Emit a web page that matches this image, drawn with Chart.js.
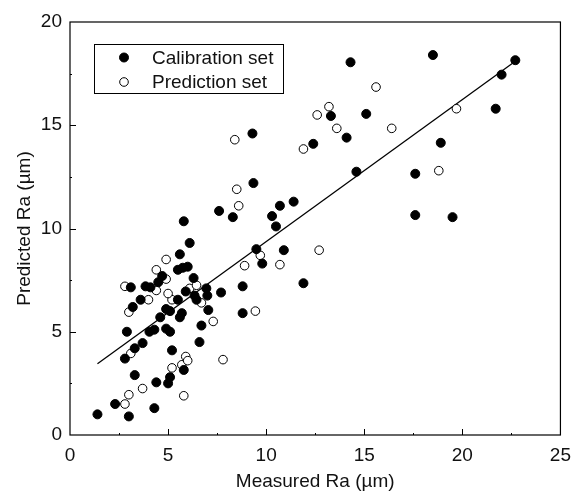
<!DOCTYPE html>
<html>
<head>
<meta charset="utf-8">
<script src="https://cdn.jsdelivr.net/npm/chart.js@4.4.0/dist/chart.umd.min.js"></script>
<style>
  html, body { margin: 0; padding: 0; background: #fff; }
  #wrap { width: 580px; height: 495px; }
</style>
</head>
<body>
<div id="wrap"><canvas id="raChart"></canvas></div>
<script>
// Calibration set (filled circles)
const calX = [1.4, 2.3, 3.0, 4.3, 3.3, 4.4, 5.0, 5.1, 5.8, 2.8, 3.3, 3.7, 5.2, 6.6, 2.9, 4.05, 4.3, 4.9, 5.1,
  6.7, 4.6, 5.6, 4.9, 5.1, 5.7, 7.05, 8.8, 3.2, 3.6, 5.5, 6.45, 6.35, 7.0, 5.9, 7.7, 6.95, 3.1, 3.85, 4.1,
  4.5, 6.3, 4.7, 5.5, 5.75, 6.0, 5.6, 6.1, 5.8, 8.8, 9.5, 9.8, 10.9, 11.9, 10.3, 10.5, 10.7, 11.4, 7.6,
  8.3, 9.35, 9.3, 12.4, 13.3, 14.1, 14.3, 15.1, 14.6, 17.6, 17.6, 18.9, 18.5, 19.5, 21.7, 22.0, 22.7];
const calY = [1.0, 1.5, 0.9, 1.3, 2.9, 2.55, 2.5, 2.8, 3.15, 3.7, 4.2, 4.45, 4.1, 4.5, 5.0, 5.0, 5.1, 5.15, 5.0,
  5.3, 5.7, 5.7, 6.1, 6.0, 5.9, 6.05, 5.9, 6.2, 6.55, 6.55, 6.55, 6.75, 6.75, 6.95, 6.9, 7.1, 7.15, 7.2, 7.15,
  7.4, 7.6, 7.7, 8.0, 8.1, 8.15, 8.75, 9.3, 10.35, 7.2, 9.0, 8.3, 8.95, 7.35, 10.6, 10.1, 11.1, 11.3, 10.85,
  10.55, 12.2, 14.6, 14.1, 15.45, 14.4, 18.05, 15.55, 12.75, 12.65, 10.65, 14.15, 18.4, 10.55, 15.8, 17.45, 18.15];

// Prediction set (open circles)
const predX = [2.8, 3.0, 3.7, 5.8, 5.2, 5.7, 5.9, 6.0, 3.1, 7.8, 3.0, 4.0, 5.2, 6.7, 7.3, 9.45, 5.0, 2.8, 4.4,
  6.1, 6.45, 4.9, 4.4, 4.9, 8.9, 9.7, 10.7, 12.7, 8.6, 8.5, 8.4, 11.9, 12.6, 13.2, 13.6, 15.6, 16.4, 18.8, 19.7];
const predY = [1.5, 1.95, 2.25, 1.9, 3.25, 3.4, 3.8, 3.6, 3.95, 3.65, 5.95, 6.55, 6.55, 6.4, 5.5, 6.0, 6.85, 7.2, 7.0,
  7.1, 7.25, 7.55, 8.0, 8.5, 8.2, 8.7, 8.25, 8.95, 11.1, 11.9, 14.3, 13.85, 15.5, 15.9, 14.85, 16.85, 14.85, 12.8, 15.8];

// fitted line end points
const fitX = [1.4, 22.7];
const fitY = [3.45, 18.1];

const toPoints = (xs, ys) => xs.map((x, i) => ({ x: x, y: ys[i] }));

const FONT = "'Liberation Sans', Arial, sans-serif";
Chart.defaults.font.family = FONT;
Chart.defaults.color = "#111";

// box frame + inward ticks
const frameTicks = {
  id: "frameTicks",
  afterDraw(chart) {
    const { ctx, chartArea: a } = chart;
    const xs = chart.scales.x, ys = chart.scales.y;
    ctx.save();
    ctx.strokeStyle = "#000";
    ctx.lineWidth = 1.2;
    ctx.strokeRect(a.left, a.top, a.right - a.left, a.bottom - a.top);
    ctx.lineWidth = 1;
    ctx.beginPath();
    for (let v = 2.5; v < 25; v += 2.5) {
      const px = Math.round(xs.getPixelForValue(v)) + 0.5;
      const len = v % 5 === 0 ? 6 : 2;
      ctx.moveTo(px, a.bottom);
      ctx.lineTo(px, a.bottom - len);
    }
    for (let v = 2.5; v < 20; v += 2.5) {
      const py = Math.round(ys.getPixelForValue(v)) + 0.5;
      const len = v % 5 === 0 ? 6 : 2;
      ctx.moveTo(a.left, py);
      ctx.lineTo(a.left + len, py);
    }
    ctx.stroke();
    ctx.restore();
  }
};

// boxed legend inside the plot
const boxLegend = {
  id: "boxLegend",
  afterDraw(chart) {
    const { ctx, chartArea: a } = chart;
    const left = a.left + 24, top = a.top + 22, w = 189, h = 49;
    ctx.save();
    ctx.fillStyle = "#fff";
    ctx.fillRect(left, top, w, h);
    ctx.strokeStyle = "#000";
    ctx.lineWidth = 1;
    ctx.strokeRect(left + 0.5, top + 0.5, w, h);
    ctx.font = "19px " + FONT;
    ctx.textBaseline = "middle";
    [0, 1].forEach((i) => {
      const ds = chart.data.datasets[i];
      const cy = top + 13.5 + i * 24.5;
      ctx.beginPath();
      ctx.arc(left + 30, cy, ds.pointRadius, 0, Math.PI * 2);
      ctx.fillStyle = ds.backgroundColor;
      ctx.fill();
      ctx.lineWidth = ds.borderWidth;
      ctx.strokeStyle = ds.borderColor;
      ctx.stroke();
      ctx.fillStyle = "#111";
      ctx.fillText(ds.label, left + 58, cy + 1);
    });
    ctx.restore();
  }
};

new Chart(document.getElementById("raChart"), {
  type: "scatter",
  data: {
    datasets: [
      {
        label: "Calibration set",
        data: toPoints(calX, calY),
        backgroundColor: "#000",
        borderColor: "#000",
        borderWidth: 1,
        pointRadius: 4.5,
      },
      {
        label: "Prediction set",
        data: toPoints(predX, predY),
        backgroundColor: "#fff",
        borderColor: "#000",
        borderWidth: 1,
        pointRadius: 4.3,
      },
      {
        label: "fit",
        type: "line",
        data: toPoints(fitX, fitY),
        borderColor: "#000",
        borderWidth: 1.3,
        pointRadius: 0,
        fill: false,
      },
    ],
  },
  options: {
    responsive: true,
    maintainAspectRatio: false,
    animation: false,
    layout: { padding: { top: 22, right: 11, left: 0, bottom: 0 } },
    plugins: { legend: { display: false }, tooltip: { enabled: false } },
    scales: {
      x: {
        type: "linear",
        min: 0,
        max: 25,
        grid: { display: false, drawTicks: false },
        border: { display: false },
        ticks: { stepSize: 5, padding: 9, font: { size: 19 } },
        title: { display: true, text: "Measured Ra (µm)", font: { size: 19 }, padding: { top: 0, bottom: 2 } },
        afterFit: (s) => { s.height = 60; },
      },
      y: {
        type: "linear",
        min: 0,
        max: 20,
        grid: { display: false, drawTicks: false },
        border: { display: false },
        ticks: { stepSize: 5, padding: 8, font: { size: 19 } },
        title: { display: true, text: "Predicted Ra (µm)", font: { size: 19 }, padding: { top: 13, bottom: 0 } },
        afterFit: (s) => { s.width = 70; },
      },
    },
  },
  plugins: [frameTicks, boxLegend],
});
</script>
</body>
</html>
